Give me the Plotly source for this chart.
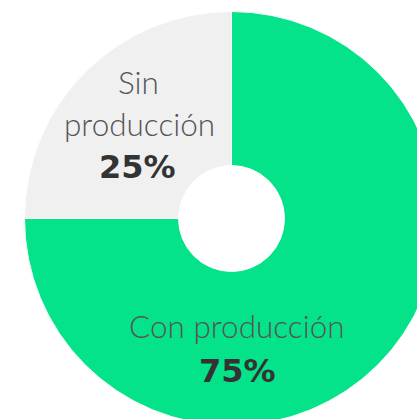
import plotly.graph_objects as go

# Share of units with / without production
labels = ["Con producción", "Sin producción"]
values = [75, 25]
colors = ["#05E38A", "#F0F0F0"]

# label lines and anchor points (px from the top-left of the page)
label_lines = [["Con producción"], ["Sin", "producción"]]
label_pos = [[(237, 326)], [(138, 82), (139, 124)]]
pct_pos = [(237, 371), (137, 167)]

W, H = 460, 440
CX, CY, R = 231.5, 218.5, 207


def px_x(x):
    return x / W


def px_y(y):
    return 1 - y / H


fig = go.Figure(go.Pie(
    labels=labels,
    values=values,
    hole=0.256,
    sort=False,
    direction="clockwise",
    rotation=0,
    marker=dict(colors=colors, line=dict(color="white", width=1)),
    textinfo="none",
    hoverinfo="label+percent",
    domain=dict(x=[px_x(CX - R), px_x(CX + R)], y=[px_y(CY + R), px_y(CY - R)]),
))

annotations = []
for lines, pos, pct, ppos in zip(label_lines, label_pos, values, pct_pos):
    for line, (x, y) in zip(lines, pos):
        annotations.append(dict(
            text=line, x=px_x(x), y=px_y(y), xref="paper", yref="paper",
            showarrow=False, xanchor="center", yanchor="middle",
            font=dict(family="Lato", size=31.5, color="#555555", weight=300),
        ))
    annotations.append(dict(
        text=f"{pct}%", x=px_x(ppos[0]), y=px_y(ppos[1]), xref="paper", yref="paper",
        showarrow=False, xanchor="center", yanchor="middle",
        font=dict(family="DejaVu Sans", size=32, color="#333333", weight="bold"),
    ))

fig.update_layout(
    width=W,
    height=H,
    showlegend=False,
    margin=dict(t=0, b=0, l=0, r=0),
    paper_bgcolor="white",
    annotations=annotations,
)

fig.write_html(
    "out.html",
    config={"displayModeBar": False},
    post_script="document.body.style.margin='0';document.body.style.overflow='hidden';",
)
